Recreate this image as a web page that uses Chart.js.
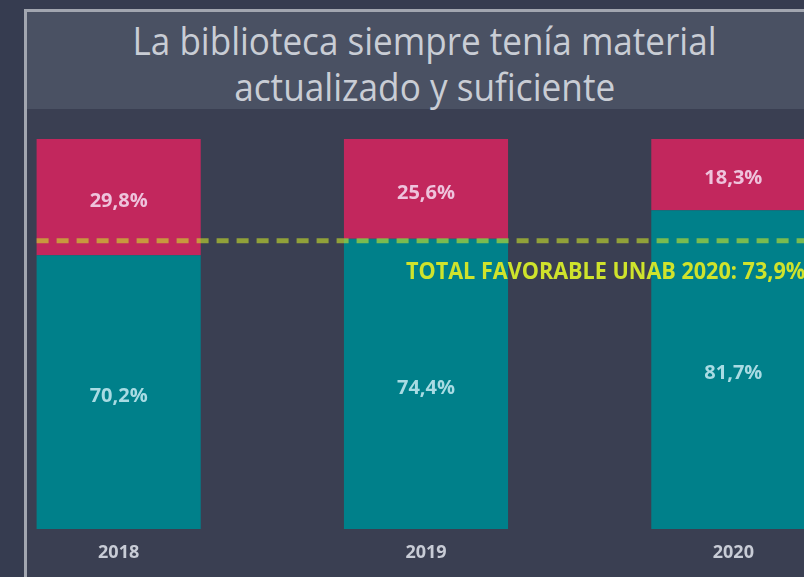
<!DOCTYPE html>
<html><head><meta charset="utf-8">
<script src="https://cdn.jsdelivr.net/npm/chart.js@4"></script>
<style>
html,body{margin:0;padding:0;background:#363c50;width:804px;height:577px;overflow:hidden;}
#panel{position:absolute;left:24px;top:9px;width:797px;height:600px;background:#3a3f52;border-left:3px solid #a2a6b0;border-top:3px solid #a2a6b0;overflow:hidden;}
#title{position:absolute;left:0;top:0;width:796px;height:97px;background:#4a5163;color:#c9cdd5;font-family:"Open Sans";font-size:38px;line-height:46px;text-align:center;padding-top:5px;box-sizing:border-box;}
.tl{display:block;white-space:nowrap;}
.tl span{display:inline-block;transform-origin:center;}
#wrap{position:absolute;left:-62px;top:100px;width:922px;height:465px;}
</style>
</head><body>
<div id="panel">
  <div id="title"><div class="tl"><span id="t1">La biblioteca siempre tenía material</span></div><div class="tl"><span id="t2">actualizado y suficiente</span></div></div>
  <div id="wrap"><canvas id="c" width="922" height="465"></canvas></div>
</div>
<script>
const categories = ['2018', '2019', '2020'];
const favorable = [70.2, 74.4, 81.7];
const desfavorable = [29.8, 25.6, 18.3];
const totalFavorable = 73.9;
const totalLabel = 'TOTAL FAVORABLE UNAB 2020: ';

function fmt(v){ return v.toFixed(1).replace('.', ',') + '%'; }

// condense title lines
[['t1',584],['t2',381]].forEach(([id,w])=>{
  const el=document.getElementById(id);
  const real=el.getBoundingClientRect().width;
  el.style.transform='scaleX('+(w/real)+')';
});

function drawText(ctx, text, x, y, font, color, sx, align){
  ctx.save();
  ctx.font = font; ctx.fillStyle = color; ctx.textBaseline = 'middle'; ctx.textAlign = align;
  ctx.translate(x, y); ctx.scale(sx, 1);
  ctx.fillText(text, 0, 0);
  ctx.restore();
}

const labelColors = ['#a9dbe3', '#eec3dc'];

const overlay = {
  id: 'overlay',
  afterDatasetsDraw(chart){
    const {ctx, chartArea, scales:{x, y}} = chart;
    const first = chart.getDatasetMeta(0).data[0];
    const yy = y.getPixelForValue(totalFavorable);
    ctx.save();
    ctx.strokeStyle = 'rgba(204,226,42,0.6)';
    ctx.lineWidth = 5;
    ctx.setLineDash([12, 8]);
    ctx.beginPath();
    ctx.moveTo(first.x - first.width/2, yy);
    ctx.lineTo(chartArea.right, yy);
    ctx.stroke();
    ctx.restore();
    chart.data.datasets.forEach((ds, di)=>{
      chart.getDatasetMeta(di).data.forEach((bar, i)=>{
        drawText(ctx, fmt(ds.data[i]), bar.x, (bar.y + bar.base)/2 + 4, 'bold 20px "Open Sans"', labelColors[di], 1, 'center');
      });
    });
    drawText(ctx, totalLabel + fmt(totalFavorable), x.getPixelForValue(1) - 20, yy + 31, 'bold 24px "Open Sans"', '#cfe32c', 0.9, 'left');
  }
};

new Chart(document.getElementById('c'), {
  type: 'bar',
  data: {
    labels: categories,
    datasets: [
      { label: 'Favorable', data: favorable, backgroundColor: '#00808a', borderWidth: 0 },
      { label: 'Desfavorable', data: desfavorable, backgroundColor: '#c2275d', borderWidth: 0 }
    ]
  },
  options: {
    responsive: false,
    devicePixelRatio: 1,
    animation: false,
    barPercentage: 0.534,
    categoryPercentage: 1,
    layout: { padding: { top: 27, left: 0, right: 0, bottom: 0 } },
    plugins: { legend: { display: false }, tooltip: { enabled: false }, title: { display: false } },
    scales: {
      x: {
        stacked: true,
        grid: { display: false, drawTicks: false },
        border: { display: false },
        ticks: { color: '#c8ccd6', font: { family: 'Open Sans', size: 18, weight: 'bold' }, padding: 13 },
        afterFit(s){ s.height = 48; }
      },
      y: { stacked: true, display: false, min: 0, max: 100 }
    }
  },
  plugins: [overlay]
});
</script>
</body></html>
